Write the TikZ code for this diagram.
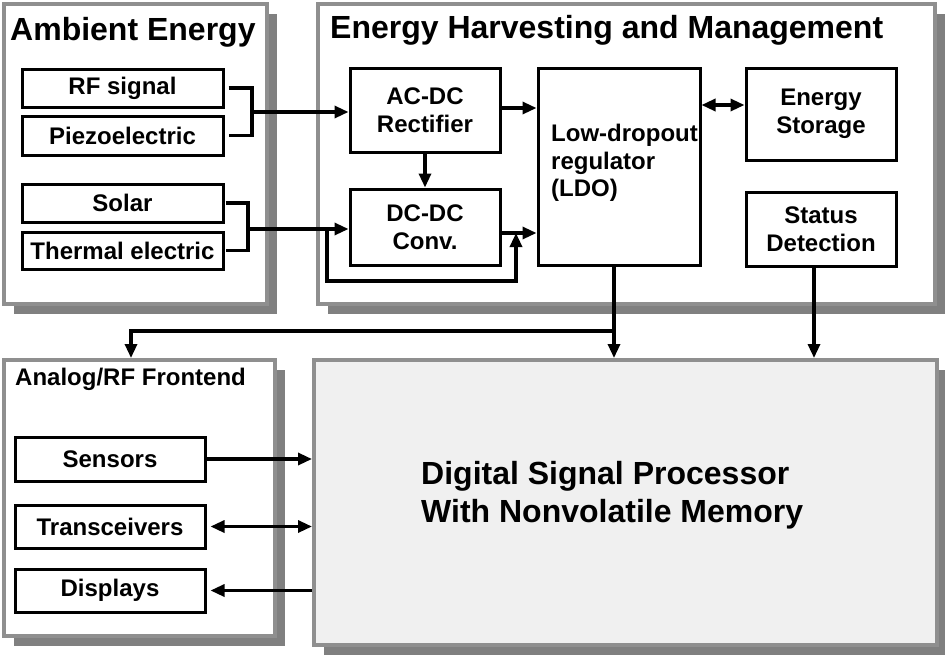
\documentclass[tikz,border=0pt]{standalone}
\usepackage{fontspec}
\setmainfont{Liberation Sans}
\usetikzlibrary{arrows.meta,shadows}
\definecolor{bordergray}{gray}{0.56}
\definecolor{shadowgray}{gray}{0.5}
\definecolor{dspfill}{gray}{0.94}
\begin{document}
\begin{tikzpicture}[x=1pt,y=-1pt,
  panel/.style={draw=bordergray, line width=3.5pt, fill=white, rectangle, inner sep=0pt,
    drop shadow={shadow xshift=10pt, shadow yshift=-10pt, fill=shadowgray, opacity=1}},
  blk/.style={draw=black, line width=3pt, fill=white, rectangle, inner sep=0pt,
    font=\bfseries\fontsize{24}{28}\selectfont, align=center},
  title/.style={inner sep=0pt, anchor=west, font=\bfseries\fontsize{32}{38}\selectfont},
  conn/.style={draw=black, line width=3.2pt},
  arr/.style={conn, -{Triangle[length=14pt,width=12pt]}},
  dbl/.style={conn, {Triangle[length=14pt,width=12pt]}-{Triangle[length=14pt,width=12pt]}}
]
\useasboundingbox (0,0) rectangle (945,654);

% panels
\node[panel, minimum width=263pt, minimum height=300pt, anchor=north west] (amb) at (2,2) {};
\node[panel, minimum width=617pt, minimum height=300pt, anchor=north west] (ehm) at (316,2) {};
\node[panel, minimum width=271pt, minimum height=276pt, anchor=north west] (afe) at (2,358) {};
\node[panel, fill=dspfill, minimum width=623pt, minimum height=285pt, anchor=north west] (dsp) at (312,358) {};

% titles
\node[title] (tamb) at (10,32) {Ambient Energy};
\node[title] (tehm) at (330,30) {Energy Harvesting and Management};
\node[title, font=\bfseries\fontsize{24}{28}\selectfont] (tafe) at (15,379) {Analog/RF Frontend};
\node[title, align=left] (tdsp) at (421,495) {Digital Signal Processor\\[0pt]With Nonvolatile Memory};

% ambient sources
\node[blk, minimum width=201pt, minimum height=38pt] (rf) at (122.5,88) {RF signal};
\node[blk, minimum width=201pt, minimum height=39pt] (piezo) at (122.5,135.5) {Piezoelectric};
\node[blk, minimum width=201pt, minimum height=38pt] (solar) at (122.5,203) {Solar};
\node[blk, minimum width=201pt, minimum height=37pt] (thermal) at (122.5,250.5) {Thermal electric};

% harvesting blocks
\node[blk, minimum width=150pt, minimum height=84pt] (acdc) at (425,110) {AC-DC\\Rectifier};
\node[blk, minimum width=150pt, minimum height=76pt] (dcdc) at (425,227) {DC-DC\\Conv.};
\node[blk, minimum width=162pt, minimum height=197pt] (ldo) at (619,166.5) {};
\node[inner sep=0pt, anchor=west, align=left, font=\bfseries\fontsize{24}{27.5}\selectfont] (tldo) at (551,163) {Low-dropout\\regulator\\(LDO)};
\node[blk, minimum width=150pt, minimum height=92pt] (storage) at (821,114) {Energy\\Storage};
\node[blk, minimum width=150pt, minimum height=74pt] (status) at (821,229) {Status\\Detection};

% frontend blocks
\node[blk, minimum width=190pt, minimum height=44pt] (sensors) at (110,459) {Sensors};
\node[blk, minimum width=190pt, minimum height=43pt] (trans) at (110,526.5) {Transceivers};
\node[blk, minimum width=190pt, minimum height=43pt] (displays) at (110,590.5) {Displays};

% junction coordinates
\coordinate (j1) at (252,112);
\coordinate (j2) at (248,229);
\coordinate (b1) at (327,229);
\coordinate (b3) at (516,281);
\coordinate (b2) at (516,233);
\coordinate (a1) at (500,108);
\coordinate (s1) at (700,105);
\coordinate (j3) at (614,331);
\coordinate (j4) at (131,331);
\coordinate (st) at (814,266);

% connectors
\draw[conn] ([xshift=4pt]rf.east) -| (j1) |- ([xshift=4pt]piezo.east);
\draw[arr] (j1) -- (acdc.west |- j1);
\draw[conn] ([xshift=1pt]solar.east) -| (j2) |- ([xshift=1pt]thermal.east);
\draw[arr] (j2) -- (dcdc.west |- j2);
\draw[arr] (b1) |- (b3) -- (b2);
\draw[arr] (acdc.south) -- (dcdc.north);
\draw[arr] (acdc.east |- a1) -- (ldo.west |- a1);
\draw[arr] (dcdc.east |- b2) -- (ldo.west |- b2);
\draw[dbl] (ldo.east |- s1) -- (storage.west |- s1);
\draw[arr] (ldo.south -| j3) -- (dsp.north -| j3);
\draw[arr] (j3) -- (j4) -- (afe.north -| j4);
\draw[arr] (status.south -| st) -- (dsp.north -| st);
\draw[arr] (sensors.east) -- (dsp.west |- sensors.east);
\draw[dbl] ([xshift=4pt]trans.east) -- (dsp.west |- trans.east);
\draw[arr] (dsp.west |- displays.east) -- ([xshift=4pt]displays.east);
\end{tikzpicture}
\end{document}
